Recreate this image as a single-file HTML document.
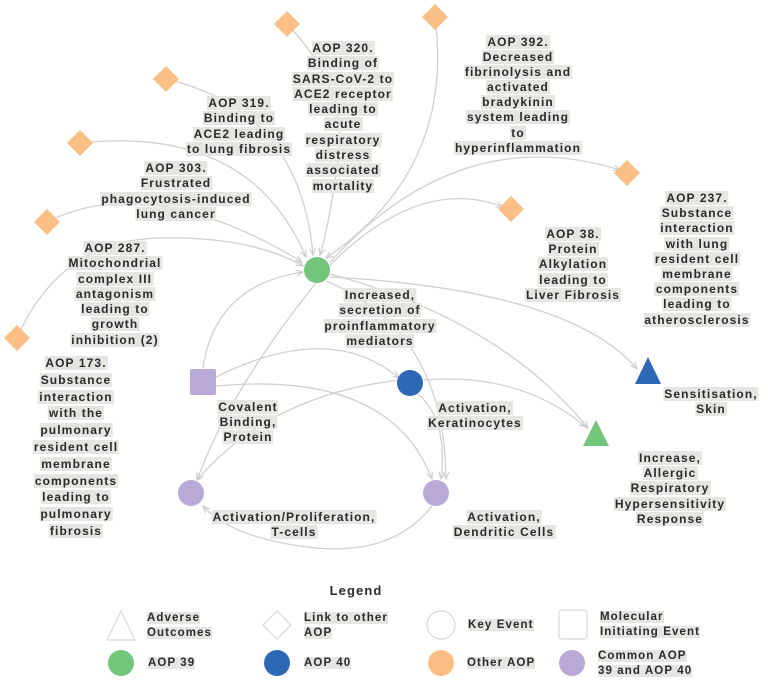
<!DOCTYPE html>
<html><head><meta charset="utf-8"><style>
body{margin:0;background:#fff;}
#w{position:relative;width:768px;height:681px;overflow:hidden;font-family:"Liberation Sans",sans-serif;}
svg{position:absolute;left:0;top:0;}
.l{position:absolute;transform:translateX(-50%);text-align:center;font-size:12px;font-weight:bold;letter-spacing:1.1px;color:#2a2a2a;white-space:nowrap;}
.l span{background:#e7e5e2;padding:0 1px;}
.t{position:absolute;font-size:11.5px;font-weight:bold;letter-spacing:1.1px;color:#2a2a2a;white-space:nowrap;line-height:15px;}
.t span{background:#e7e5e2;}
</style></head><body><div id="w">
<svg width="768" height="681">
<defs><marker id="a" markerWidth="8" markerHeight="8" refX="7" refY="4" orient="auto" markerUnits="userSpaceOnUse"><path d="M0,1 L7,4 L0,7" fill="none" stroke="#c8c8c8" stroke-width="1"/></marker></defs>
<g fill="none" stroke="#d0d0d0" stroke-width="1.3" marker-end="url(#a)">
<path d="M287,24 Q350,90 338,160 Q330,220 320,255"/>
<path d="M435,17 Q455,170 326,258"/>
<path d="M166,79 Q300,110 313,255"/>
<path d="M80,143 Q250,125 306,257"/>
<path d="M47,222 Q150,170 302,262"/>
<path d="M17,338 Q60,240 160,238 Q250,236 303,266"/>
<path d="M330,262 Q460,120 620,170"/>
<path d="M330,265 Q420,175 503,207"/>
<path d="M203,368 Q215,285 303,272"/>
<path d="M216,377 Q330,320 399,378"/>
<path d="M216,386 Q390,370 432,479"/>
<path d="M424,380 Q520,372 586,427"/>
<path d="M418,394 Q448,420 441,479"/>
<path d="M400,380 Q270,395 197,480"/>
<path d="M432,506 Q390,560 300,546 Q230,536 203,506"/>
<path d="M316,283 Q230,390 197,480"/>
<path d="M326,281 Q445,330 446,479"/>
<path d="M330,277 Q570,290 637,369"/>
<path d="M330,274 Q500,320 588,428"/>
</g>
<g fill="#fbbf85">
<path d="M287,11 L300,24 L287,37 L274,24Z"/>
<path d="M435,4 L448,17 L435,30 L422,17Z"/>
<path d="M166,66 L179,79 L166,92 L153,79Z"/>
<path d="M80,130 L93,143 L80,156 L67,143Z"/>
<path d="M47,209 L60,222 L47,235 L34,222Z"/>
<path d="M627,160 L640,173 L627,186 L614,173Z"/>
<path d="M511,196 L524,209 L511,222 L498,209Z"/>
<path d="M17,325 L30,338 L17,351 L4,338Z"/>
<circle cx="441" cy="663" r="13"/>
</g>
<circle cx="317" cy="270" r="13" fill="#72c67c"/>
<rect x="190" y="369" width="26" height="26" rx="2" fill="#b8a9d6"/>
<circle cx="410" cy="383" r="13" fill="#2d68b5"/>
<path d="M648,357 L661,384 L635,384Z" fill="#2d68b5"/>
<path d="M596,420 L609,446 L583,446Z" fill="#72c67c"/>
<circle cx="191" cy="493" r="13" fill="#b8a9d6"/>
<circle cx="436" cy="493" r="13" fill="#b8a9d6"/>
<g fill="none" stroke="#d8d8d8" stroke-width="1.2">
<path d="M121,611 L135,640 L107,640Z"/>
<path d="M277,611 L291,625 L277,639 L263,625Z"/>
<circle cx="441" cy="625" r="14"/>
<rect x="559" y="610" width="28" height="29" rx="3"/>
</g>
<circle cx="121" cy="663" r="13" fill="#72c67c"/>
<circle cx="277" cy="663" r="13" fill="#2d68b5"/>
<circle cx="572" cy="663" r="13" fill="#b8a9d6"/>
</svg>

<div class="l" style="left:343px;top:41px;line-height:15.3px"><span>AOP 320.</span><br><span>Binding of</span><br><span>SARS-CoV-2 to</span><br><span>ACE2 receptor</span><br><span>leading to</span><br><span>acute</span><br><span>respiratory</span><br><span>distress</span><br><span>associated</span><br><span>mortality</span></div>
<div class="l" style="left:518px;top:35px;line-height:15.1px"><span>AOP 392.</span><br><span>Decreased</span><br><span>fibrinolysis and</span><br><span>activated</span><br><span>bradykinin</span><br><span>system leading</span><br><span>to</span><br><span>hyperinflammation</span></div>
<div class="l" style="left:239px;top:96px;line-height:15.3px"><span>AOP 319.</span><br><span>Binding to</span><br><span>ACE2 leading</span><br><span>to lung fibrosis</span></div>
<div class="l" style="left:176px;top:161px;line-height:15.3px"><span>AOP 303.</span><br><span>Frustrated</span><br><span>phagocytosis-induced</span><br><span>lung cancer</span></div>
<div class="l" style="left:115px;top:241px;line-height:15.3px"><span>AOP 287.</span><br><span>Mitochondrial</span><br><span>complex III</span><br><span>antagonism</span><br><span>leading to</span><br><span>growth</span><br><span>inhibition (2)</span></div>
<div class="l" style="left:697px;top:191px;line-height:15.2px"><span>AOP 237.</span><br><span>Substance</span><br><span>interaction</span><br><span>with lung</span><br><span>resident cell</span><br><span>membrane</span><br><span>components</span><br><span>leading to</span><br><span>atherosclerosis</span></div>
<div class="l" style="left:573px;top:227px;line-height:15.2px"><span>AOP 38.</span><br><span>Protein</span><br><span>Alkylation</span><br><span>leading to</span><br><span>Liver Fibrosis</span></div>
<div class="l" style="left:76px;top:355px;line-height:16.8px"><span>AOP 173.</span><br><span>Substance</span><br><span>interaction</span><br><span>with the</span><br><span>pulmonary</span><br><span>resident cell</span><br><span>membrane</span><br><span>components</span><br><span>leading to</span><br><span>pulmonary</span><br><span>fibrosis</span></div>
<div class="l" style="left:380px;top:288px;line-height:15.3px"><span>Increased,</span><br><span>secretion of</span><br><span>proinflammatory</span><br><span>mediators</span></div>
<div class="l" style="left:248px;top:400px;line-height:15px"><span>Covalent</span><br><span>Binding,</span><br><span>Protein</span></div>
<div class="l" style="left:475px;top:401px;line-height:15px"><span>Activation,</span><br><span>Keratinocytes</span></div>
<div class="l" style="left:711px;top:387px;line-height:15px"><span>Sensitisation,</span><br><span>Skin</span></div>
<div class="l" style="left:670px;top:451px;line-height:15.2px"><span>Increase,</span><br><span>Allergic</span><br><span>Respiratory</span><br><span>Hypersensitivity</span><br><span>Response</span></div>
<div class="l" style="left:294px;top:510px;line-height:15px"><span>Activation/Proliferation,</span><br><span>T-cells</span></div>
<div class="l" style="left:504px;top:510px;line-height:15px"><span>Activation,</span><br><span>Dendritic Cells</span></div>

<div class="l" style="left:356px;top:583px;font-size:13px;background:none">Legend</div>
<div class="t" style="left:147px;top:611px"><span>Adverse</span><br><span>Outcomes</span></div>
<div class="t" style="left:304px;top:611px"><span>Link to other</span><br><span>AOP</span></div>
<div class="t" style="left:468px;top:618px"><span>Key Event</span></div>
<div class="t" style="left:600px;top:610px"><span>Molecular</span><br><span>Initiating Event</span></div>
<div class="t" style="left:148px;top:656px"><span>AOP 39</span></div>
<div class="t" style="left:304px;top:656px"><span>AOP 40</span></div>
<div class="t" style="left:467px;top:656px"><span>Other AOP</span></div>
<div class="t" style="left:598px;top:649px"><span>Common AOP</span><br><span>39 and AOP 40</span></div>
</div></body></html>
